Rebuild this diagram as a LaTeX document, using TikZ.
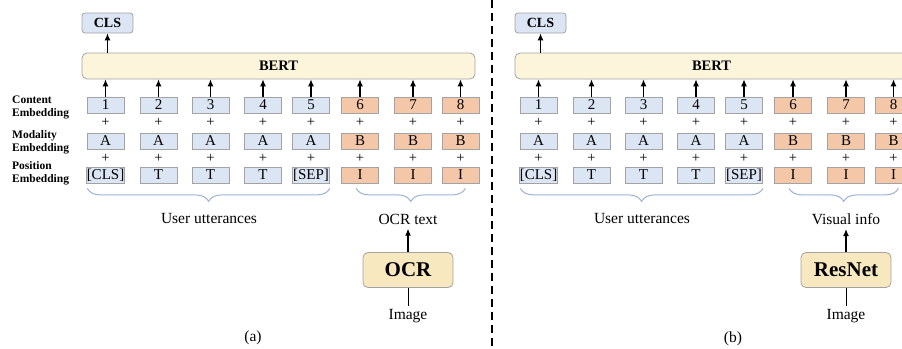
\documentclass[tikz,border=0pt]{standalone}
\usepackage{fontspec}
\setmainfont{Liberation Serif}
\usetikzlibrary{arrows.meta,decorations.pathreplacing,calc}
\definecolor{bluebox}{HTML}{DCE5F3}
\definecolor{orangebox}{HTML}{F4C7A8}
\definecolor{bertfill}{HTML}{FCF5DB}
\definecolor{ocrfill}{HTML}{F7E8BF}
\definecolor{boxline}{HTML}{A3A3A3}
\definecolor{bracecol}{HTML}{9CB2DA}
\begin{document}
\begin{tikzpicture}[x=1pt,y=-1pt,
  emb/.style={draw=boxline, line width=0.8pt, minimum width=37pt, minimum height=16pt, inner sep=0pt, font=\fontsize{15}{15}\selectfont},
  blu/.style={emb, fill=bluebox},
  org/.style={emb, fill=orangebox},
  arr/.style={-{Latex[length=7pt,width=6pt]}, line width=1.1pt, black},
  sidelab/.style={font=\bfseries\fontsize{11.5}{13}\selectfont, align=left, anchor=west, inner sep=0pt},
  txt/.style={font=\fontsize{15.5}{16}\selectfont},
  pl/.style={font=\fontsize{14.5}{14.5}\selectfont, inner sep=0pt},
  brc/.style={draw=bracecol, line width=1pt, decorate, decoration={brace, mirror, amplitude=13pt}},
  bert/.style={draw=boxline, fill=bertfill, rounded corners=5pt, line width=0.8pt, minimum width=393pt, minimum height=26pt, inner sep=0pt, font=\bfseries\fontsize{14.5}{14.5}\selectfont},
  clsbox/.style={draw=boxline, fill=bluebox, rounded corners=3pt, line width=0.8pt, minimum width=51pt, minimum height=20pt, inner sep=0pt, font=\bfseries\fontsize{14}{14}\selectfont},
  modelbox/.style={draw=boxline, fill=ocrfill, rounded corners=5pt, line width=0.8pt, minimum width=90pt, minimum height=35pt, inner sep=0pt, font=\bfseries\fontsize{21}{21}\selectfont}
]
\useasboundingbox (0,0) rectangle (902,348);
\clip (0,0) rectangle (902,348);

% side labels
\node[sidelab] (lc) at (12,107) {Content\\Embedding};
\node[sidelab] (lm) at (12,142) {Modality\\Embedding};
\node[sidelab] (lp) at (12,173.5) {Position\\Embedding};

\foreach \p/\s/\bx/\lab/\mod in {a/0/408/OCR text/OCR, b/433/413/Visual info/ResNet} {
  \begin{scope}[xshift=\s pt]
    \node[bert] (\p bert) at (278.5,66) {BERT};
    \node[clsbox] (\p cls) at (107.5,23) {CLS};
    \draw[arr] (\p cls |- \p bert.north) -- (\p cls);
    \foreach \i/\x/\m/\q/\st in {1/105.5/A/{[CLS]}/blu, 2/158.5/A/T/blu, 3/210.5/A/T/blu, 4/263/A/T/blu, 5/311/A/{[SEP]}/blu, 6/360/B/I/org, 7/413/B/I/org, 8/460.5/B/I/org} {
      \node[\st] (\p c\i) at (\x,105) {\i};
      \node[pl] (\p pa\i) at (\x,122.5) {+};
      \node[\st] (\p m\i) at (\x,141) {\m};
      \node[pl] (\p pb\i) at (\x,158.5) {+};
      \node[\st] (\p s\i) at (\x,175) {\q};
      \draw[arr] (\p c\i) -- (\p c\i |- \p bert.south);
    }
    \draw[brc] ([xshift=1pt,yshift=-5pt]\p s1.south west) -- ([xshift=0pt,yshift=-5pt]\p s5.south east);
    \draw[brc] ([xshift=15pt,yshift=-5pt]\p s6.south west) -- ([xshift=-14pt,yshift=-5pt]\p s8.south east);
    \node[txt] (\p ut) at (209,218) {User utterances};
    \node[txt] (\p lb) at (\bx,219) {\lab};
    \node[modelbox] (\p mod) at (\bx,270) {\mod};
    \draw[arr, shorten >=1pt] (\p mod) -- (\p lb);
    \node[txt] (\p img) at (\bx,316) {Image};
    \draw[line width=1pt] (\p mod) -- (\p img);
  \end{scope}
}

\coordinate (dtop) at (492,0);
\coordinate (dbot) at (492,348);
\draw[line width=1.8pt, dash pattern=on 8pt off 5pt] (dtop) -- (dbot);

\node[txt] (capa) at (253,338) {(a)};
\node[txt] (capb) at (733,339) {(b)};
\end{tikzpicture}
\end{document}
